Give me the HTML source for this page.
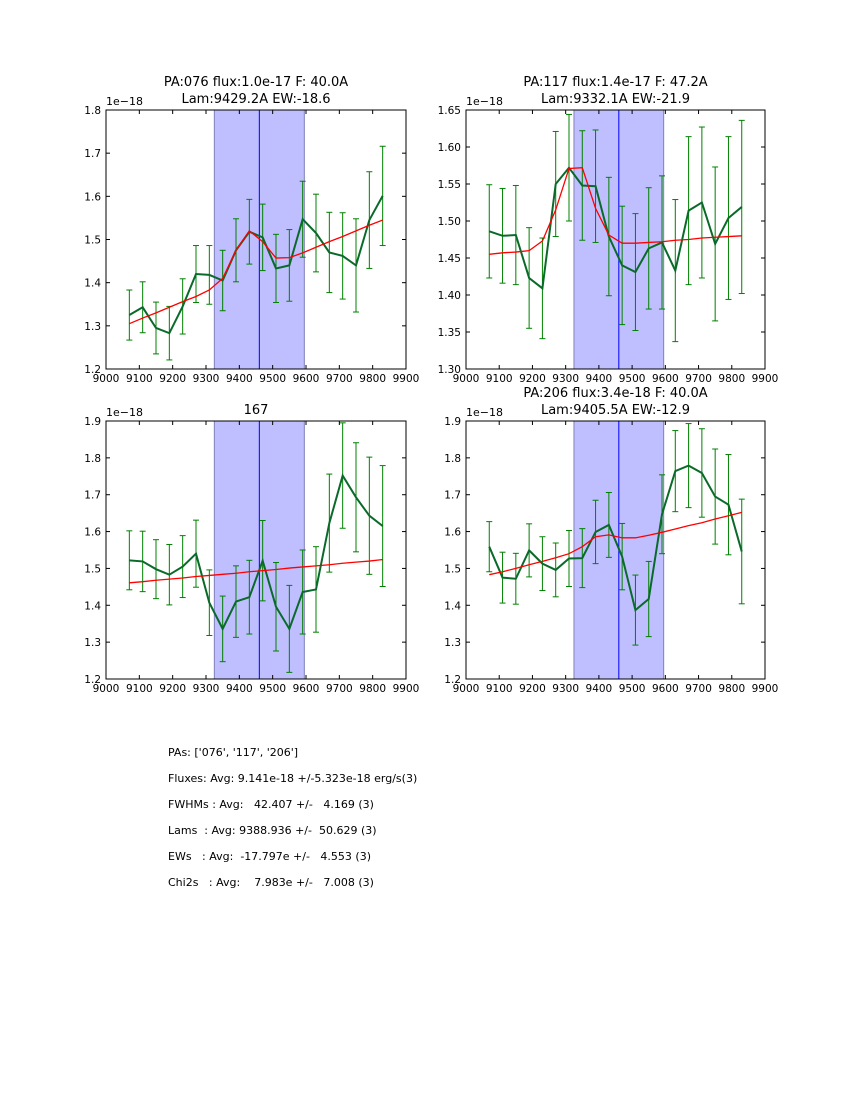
<!DOCTYPE html>
<html><head><meta charset="utf-8">
<style>
html,body{margin:0;padding:0;background:#fff;}
svg{display:block;font-family:"DejaVu Sans","Liberation Sans",sans-serif;}
</style></head>
<body>
<svg id="fig" width="850" height="1100" viewBox="0 0 850 1100" xmlns="http://www.w3.org/2000/svg">
<rect width="850" height="1100" fill="#fff"/>
<g font-size="11" fill="#000" style="white-space:pre">
<text x="168" y="756" xml:space="preserve">PAs: ['076', '117', '206']</text>
<text x="168" y="782" xml:space="preserve">Fluxes: Avg: 9.141e-18 +/-5.323e-18 erg/s(3)</text>
<text x="168" y="808" xml:space="preserve">FWHMs : Avg:   42.407 +/-   4.169 (3)</text>
<text x="168" y="834" xml:space="preserve">Lams  : Avg: 9388.936 +/-  50.629 (3)</text>
<text x="168" y="860" xml:space="preserve">EWs   : Avg:  -17.797e +/-   4.553 (3)</text>
<text x="168" y="886" xml:space="preserve">Chi2s   : Avg:    7.983e +/-   7.008 (3)</text>
</g>
</svg>
<script>
const xTicks=[9000,9100,9200,9300,9400,9500,9600,9700,9800,9900];
const wavelengths=[9070,9110,9150,9190,9230,9270,9310,9350,9390,9430,9470,9510,9550,9590,9630,9670,9710,9750,9790,9830];
const shadeRange=[9325,9595];
const lineCenter=9460;

const p1Flux=[1.325,1.343,1.295,1.283,1.345,1.420,1.418,1.405,1.475,1.518,1.505,1.433,1.440,1.547,1.515,1.470,1.462,1.440,1.545,1.601];
const p1Err=[0.058,0.059,0.060,0.062,0.064,0.066,0.068,0.070,0.073,0.075,0.077,0.079,0.083,0.088,0.090,0.093,0.100,0.108,0.112,0.115];
const p1Fit=[1.305,1.318,1.330,1.343,1.356,1.368,1.383,1.410,1.475,1.520,1.495,1.457,1.458,1.469,1.482,1.495,1.507,1.520,1.533,1.545];
const p1YTicks=[1.2,1.3,1.4,1.5,1.6,1.7,1.8];

const p2Flux=[1.486,1.480,1.481,1.423,1.409,1.550,1.572,1.548,1.547,1.479,1.440,1.431,1.463,1.471,1.433,1.514,1.525,1.469,1.504,1.519];
const p2Err=[0.063,0.064,0.067,0.068,0.068,0.071,0.072,0.074,0.076,0.080,0.080,0.079,0.082,0.090,0.096,0.100,0.102,0.104,0.110,0.117];
const p2Fit=[1.455,1.457,1.458,1.460,1.473,1.515,1.571,1.572,1.517,1.481,1.470,1.470,1.471,1.472,1.474,1.475,1.477,1.478,1.479,1.480];
const p2YTicks=[1.30,1.35,1.40,1.45,1.50,1.55,1.60,1.65];

const p3Flux=[1.522,1.519,1.498,1.483,1.505,1.540,1.407,1.336,1.410,1.422,1.521,1.396,1.336,1.436,1.443,1.623,1.752,1.693,1.643,1.615];
const p3Err=[0.080,0.082,0.080,0.082,0.084,0.091,0.089,0.089,0.097,0.100,0.109,0.120,0.118,0.114,0.116,0.133,0.143,0.148,0.159,0.164];
const p3Fit=[1.461,1.464,1.468,1.471,1.474,1.478,1.481,1.484,1.487,1.491,1.494,1.497,1.501,1.504,1.507,1.510,1.514,1.517,1.520,1.524];
const p3YTicks=[1.2,1.3,1.4,1.5,1.6,1.7,1.8,1.9];

const p4Flux=[1.559,1.475,1.472,1.549,1.513,1.496,1.527,1.528,1.599,1.618,1.532,1.387,1.417,1.647,1.764,1.779,1.759,1.695,1.673,1.546];
const p4Err=[0.068,0.069,0.069,0.072,0.073,0.073,0.076,0.080,0.086,0.088,0.090,0.095,0.102,0.107,0.110,0.114,0.120,0.129,0.136,0.142];
const p4Fit=[1.483,1.491,1.500,1.510,1.519,1.529,1.540,1.559,1.586,1.591,1.583,1.583,1.590,1.598,1.607,1.616,1.624,1.634,1.643,1.652];
const p4YTicks=[1.2,1.3,1.4,1.5,1.6,1.7,1.8,1.9];

const NS='http://www.w3.org/2000/svg';
const svg=document.getElementById('fig');
function mk(tag,attrs,parent){const e=document.createElementNS(NS,tag);for(const k in attrs)e.setAttribute(k,attrs[k]);(parent||svg).appendChild(e);return e;}

function panel(id,box,yTicks,dec,flux,err,fit,titles){
  const g=mk('g',{});
  
  
  const [x0,y0,w,h]=box;
  const ymin=yTicks[0],ymax=yTicks[yTicks.length-1];
  const sx=v=>x0+(v-9000)/900*w;
  const sy=v=>y0+h-(v-ymin)/(ymax-ymin)*h;
  const clip='clip-'+id;
  const cp=mk('clipPath',{id:clip},g);mk('rect',{x:x0,y:y0,width:w,height:h},cp);
  const shade=mk('rect',{x:sx(shadeRange[0]),y:y0,width:sx(shadeRange[1])-sx(shadeRange[0]),height:h,fill:'#bfbfff',stroke:'#8080b8','stroke-width':1},g);
  
  
  const vl=mk('line',{x1:sx(lineCenter),x2:sx(lineCenter),y1:y0,y2:y0+h,stroke:'#0000ff','stroke-width':1},g);
  
  
  const eg=mk('g',{stroke:'#008000','stroke-width':1,'clip-path':'url(#'+clip+')'},g);
  
  
  wavelengths.forEach((wl,i)=>{
    const x=sx(wl),t=sy(flux[i]+err[i]),b=sy(flux[i]-err[i]);
    mk('line',{x1:x,x2:x,y1:t,y2:b},eg);
    mk('line',{x1:x-3,x2:x+3,y1:t,y2:t},eg);
    mk('line',{x1:x-3,x2:x+3,y1:b,y2:b},eg);
  });
  const dl=mk('polyline',{points:wavelengths.map((wl,i)=>sx(wl)+','+sy(flux[i])).join(' '),fill:'none',stroke:'#0a6a2a','stroke-width':2,'clip-path':'url(#'+clip+')'},g);
  
  
  const fl=mk('polyline',{points:wavelengths.map((wl,i)=>sx(wl)+','+sy(fit[i])).join(' '),fill:'none',stroke:'#ff0000','stroke-width':1.3,'clip-path':'url(#'+clip+')'},g);
  
  
  const fr=mk('rect',{x:x0,y:y0,width:w,height:h,fill:'none',stroke:'#000','stroke-width':1},g);
  
  
  const tg=mk('g',{stroke:'#000','stroke-width':1},g);
  const lg=mk('g',{'font-size':'10.5',fill:'#000'},g);
  
  
  xTicks.forEach(v=>{const x=sx(v);
    mk('line',{x1:x,x2:x,y1:y0+h,y2:y0+h-4},tg);mk('line',{x1:x,x2:x,y1:y0,y2:y0+4},tg);
    const t=mk('text',{x:x,y:y0+h+13,'text-anchor':'middle'},lg);t.textContent=v;});
  yTicks.forEach(v=>{const y=sy(v);
    mk('line',{x1:x0,x2:x0+4,y1:y,y2:y},tg);mk('line',{x1:x0+w,x2:x0+w-4,y1:y,y2:y},tg);
    const t=mk('text',{x:x0-5,y:y+4,'text-anchor':'end'},lg);t.textContent=v.toFixed(dec);});
  const off=mk('text',{x:x0,y:y0-5,'font-size':'11'},g);off.textContent='1e\u221218';
  
  
  const tt=mk('text',{x:x0+w/2,'text-anchor':'middle','font-size':'13'},g);
  
  
  titles.forEach((s,i)=>{const ts=mk('tspan',{x:x0+w/2,y:y0-(titles.length-i)*17+10},tt);ts.textContent=s;});
}
panel('panel-pa076',[106,110,300,259],p1YTicks,1,p1Flux,p1Err,p1Fit,['PA:076 flux:1.0e-17 F: 40.0A','Lam:9429.2A EW:-18.6']);
panel('panel-pa117',[466,110,299,259],p2YTicks,2,p2Flux,p2Err,p2Fit,['PA:117 flux:1.4e-17 F: 47.2A','Lam:9332.1A EW:-21.9']);
panel('panel-pa167',[106,421,300,258],p3YTicks,1,p3Flux,p3Err,p3Fit,['167']);
panel('panel-pa206',[466,421,299,258],p4YTicks,1,p4Flux,p4Err,p4Fit,['PA:206 flux:3.4e-18 F: 40.0A','Lam:9405.5A EW:-12.9']);
</script>
</body></html>
